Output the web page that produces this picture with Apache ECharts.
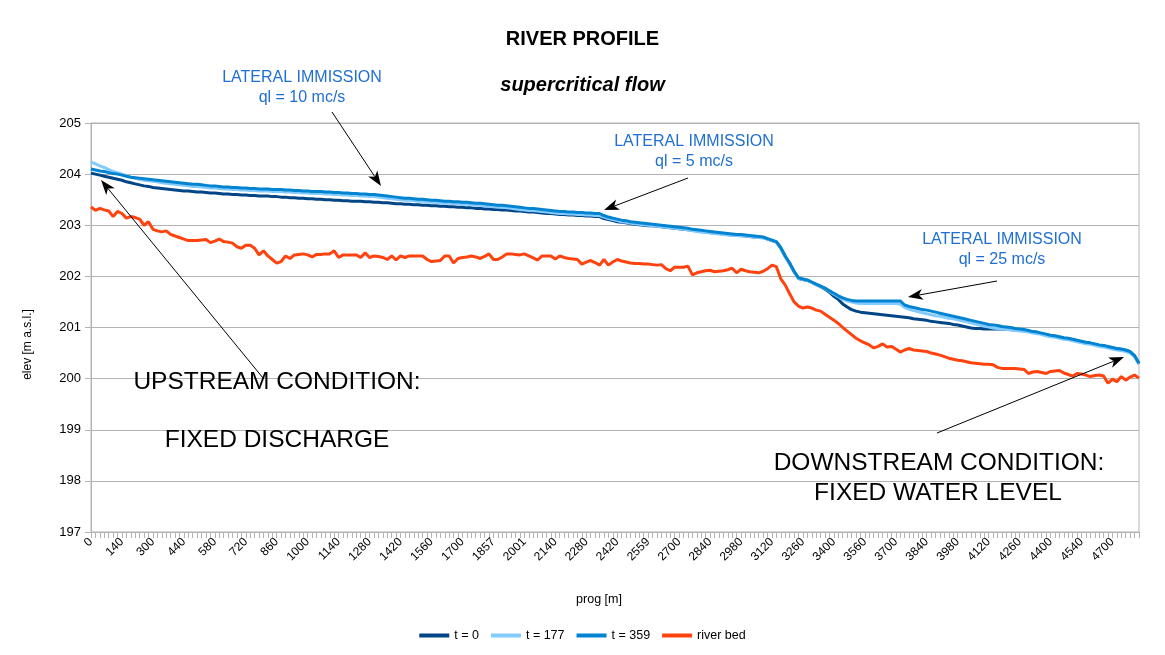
<!DOCTYPE html>
<html>
<head>
<meta charset="utf-8">
<script src="https://cdn.jsdelivr.net/npm/echarts@6/dist/echarts.min.js"></script>
<style>
html,body{margin:0;padding:0;background:#fff;}
#chart{width:1165px;height:655px;}
</style>
</head>
<body>
<div id="chart"></div>
<script>
// Tick labels shown on the x axis (every 7th category)
const tickLabels = ['0','140','300','440','580','720','860','1000','1140','1280','1420','1560','1700','1857','2001','2140','2280','2420','2559','2700','2840','2980','3120','3260','3400','3560','3700','3840','3980','4120','4260','4400','4540','4700'];
const labelStep = 7;
const nCategories = 238;

const seriesNames = ['t = 0', 't = 177', 't = 359', 'river bed'];

const t0 = [
204.02,204.00,203.98,203.96,203.94,203.92,203.90,203.88,203.85,203.83,
203.81,203.79,203.77,203.76,203.74,203.73,203.72,203.71,203.70,203.69,
203.68,203.67,203.67,203.66,203.65,203.65,203.64,203.63,203.63,203.62,
203.61,203.61,203.60,203.60,203.59,203.59,203.58,203.58,203.57,203.57,
203.57,203.56,203.56,203.55,203.55,203.54,203.54,203.53,203.53,203.52,
203.52,203.51,203.51,203.50,203.50,203.49,203.49,203.48,203.48,203.47,
203.47,203.47,203.46,203.46,203.45,203.45,203.44,203.44,203.43,203.42,
203.42,203.41,203.41,203.40,203.40,203.39,203.39,203.38,203.38,203.37,
203.37,203.36,203.36,203.35,203.35,203.34,203.34,203.33,203.33,203.32,
203.32,203.31,203.31,203.30,203.30,203.29,203.28,203.28,203.27,203.26,
203.26,203.25,203.24,203.23,203.23,203.22,203.21,203.21,203.20,203.20,
203.19,203.19,203.18,203.18,203.17,203.17,203.13,203.11,203.09,203.07,
203.06,203.05,203.03,203.02,203.01,203.00,202.99,202.99,202.98,202.97,
202.96,202.95,202.94,202.93,202.92,202.91,202.90,202.89,202.88,202.87,
202.86,202.85,202.84,202.83,202.82,202.81,202.80,202.80,202.79,202.78,
202.77,202.77,202.76,202.73,202.70,202.67,202.55,202.39,202.25,202.09,
201.96,201.94,201.92,201.88,201.84,201.80,201.75,201.69,201.61,201.55,
201.46,201.40,201.35,201.32,201.30,201.29,201.28,201.27,201.26,201.25,
201.24,201.23,201.22,201.21,201.20,201.19,201.17,201.16,201.15,201.14,
201.12,201.11,201.10,201.09,201.08,201.06,201.05,201.03,201.01,200.99,
200.98,200.98,200.97,200.97,200.97,200.97,200.97,200.96,200.96,200.95,
200.95,200.94,200.93,200.91,200.90,200.88,200.86,200.84,200.83,200.81,
200.79,200.78,200.76,200.74,200.72,200.70,200.69,200.67,200.65,200.64,
200.62,200.60,200.58,200.57,200.55,200.52,200.44,200.29];

const t177 = [
204.24,204.20,204.16,204.13,204.09,204.05,204.03,204.00,203.97,203.94,
203.92,203.90,203.88,203.87,203.86,203.85,203.83,203.82,203.81,203.80,
203.79,203.78,203.77,203.76,203.76,203.75,203.74,203.73,203.73,203.72,
203.71,203.71,203.70,203.70,203.69,203.69,203.68,203.68,203.67,203.67,
203.67,203.66,203.66,203.66,203.65,203.65,203.64,203.64,203.63,203.63,
203.62,203.62,203.62,203.61,203.61,203.60,203.60,203.59,203.59,203.58,
203.58,203.57,203.57,203.56,203.56,203.55,203.54,203.53,203.52,203.51,
203.50,203.49,203.49,203.48,203.47,203.47,203.46,203.45,203.45,203.44,
203.43,203.43,203.42,203.42,203.41,203.41,203.40,203.39,203.39,203.38,
203.37,203.36,203.35,203.35,203.34,203.33,203.32,203.31,203.30,203.29,
203.29,203.28,203.27,203.26,203.25,203.24,203.23,203.23,203.22,203.22,
203.21,203.21,203.20,203.20,203.19,203.19,203.16,203.13,203.11,203.09,
203.07,203.06,203.04,203.03,203.02,203.01,203.00,202.99,202.98,202.97,
202.96,202.95,202.94,202.93,202.92,202.91,202.89,202.88,202.87,202.86,
202.85,202.84,202.83,202.82,202.81,202.80,202.80,202.79,202.79,202.78,
202.77,202.76,202.75,202.73,202.70,202.67,202.55,202.39,202.25,202.09,
201.96,201.94,201.92,201.88,201.84,201.80,201.76,201.71,201.65,201.60,
201.55,201.52,201.50,201.48,201.47,201.47,201.47,201.47,201.47,201.47,
201.47,201.47,201.47,201.46,201.39,201.36,201.33,201.31,201.29,201.27,
201.25,201.23,201.22,201.20,201.18,201.17,201.15,201.13,201.11,201.09,
201.07,201.05,201.03,201.01,200.99,200.98,200.97,200.96,200.95,200.94,
200.93,200.92,200.91,200.89,200.88,200.86,200.84,200.82,200.81,200.79,
200.77,200.76,200.74,200.72,200.70,200.68,200.67,200.65,200.63,200.62,
200.60,200.58,200.56,200.55,200.53,200.50,200.43,200.29];

const t359 = [
204.10,204.08,204.06,204.05,204.03,204.01,204.00,203.98,203.96,203.94,
203.93,203.92,203.91,203.90,203.89,203.88,203.87,203.86,203.85,203.84,
203.83,203.82,203.81,203.80,203.80,203.79,203.78,203.77,203.77,203.76,
203.75,203.75,203.74,203.74,203.73,203.73,203.72,203.72,203.71,203.71,
203.71,203.70,203.70,203.70,203.69,203.69,203.68,203.68,203.67,203.67,
203.66,203.66,203.66,203.65,203.65,203.64,203.64,203.63,203.63,203.62,
203.62,203.61,203.61,203.60,203.60,203.59,203.58,203.57,203.56,203.55,
203.54,203.53,203.53,203.52,203.51,203.51,203.50,203.49,203.49,203.48,
203.47,203.47,203.46,203.46,203.45,203.45,203.44,203.43,203.43,203.42,
203.41,203.40,203.39,203.39,203.38,203.37,203.36,203.35,203.34,203.33,
203.33,203.32,203.31,203.30,203.29,203.28,203.27,203.27,203.26,203.26,
203.25,203.25,203.24,203.24,203.23,203.23,203.19,203.16,203.14,203.12,
203.10,203.09,203.07,203.06,203.05,203.04,203.03,203.02,203.01,203.00,
202.99,202.98,202.97,202.96,202.95,202.94,202.92,202.91,202.90,202.89,
202.88,202.87,202.86,202.85,202.84,202.83,202.82,202.82,202.81,202.80,
202.79,202.78,202.77,202.74,202.71,202.68,202.56,202.40,202.26,202.10,
201.97,201.95,201.93,201.89,201.85,201.81,201.77,201.72,201.67,201.62,
201.58,201.55,201.53,201.52,201.52,201.52,201.52,201.52,201.52,201.52,
201.52,201.52,201.52,201.52,201.44,201.41,201.39,201.37,201.35,201.34,
201.32,201.30,201.28,201.26,201.24,201.22,201.20,201.18,201.16,201.14,
201.12,201.10,201.08,201.06,201.05,201.04,201.02,201.01,201.00,200.98,
200.97,200.96,200.94,200.92,200.91,200.89,200.87,200.85,200.84,200.82,
200.80,200.79,200.77,200.75,200.73,200.71,200.70,200.68,200.66,200.65,
200.63,200.61,200.59,200.58,200.56,200.53,200.45,200.30];

const riverBed = [
203.36,203.29,203.33,203.30,203.28,203.17,203.27,203.23,203.14,203.17,
203.15,203.12,203.00,203.07,202.92,202.89,202.87,202.89,202.82,202.79,
202.76,202.73,202.70,202.70,202.70,202.71,202.72,202.66,202.69,202.73,
202.68,202.67,202.65,202.58,202.55,202.61,202.61,202.55,202.42,202.50,
202.40,202.33,202.26,202.29,202.40,202.35,202.42,202.43,202.44,202.42,
202.38,202.43,202.43,202.44,202.44,202.50,202.37,202.42,202.42,202.42,
202.42,202.37,202.46,202.37,202.40,202.39,202.37,202.33,202.40,202.32,
202.40,202.37,202.40,202.40,202.40,202.40,202.33,202.29,202.30,202.31,
202.40,202.40,202.26,202.35,202.37,202.38,202.40,202.38,202.35,202.39,
202.44,202.33,202.33,202.38,202.44,202.44,202.43,202.42,202.44,202.40,
202.36,202.32,202.40,202.40,202.40,202.34,202.40,202.37,202.35,202.34,
202.33,202.24,202.28,202.31,202.27,202.22,202.33,202.22,202.28,202.33,
202.30,202.28,202.26,202.25,202.25,202.24,202.24,202.23,202.22,202.23,
202.15,202.11,202.18,202.18,202.18,202.20,202.03,202.07,202.09,202.11,
202.12,202.09,202.10,202.11,202.13,202.16,202.07,202.14,202.11,202.09,
202.08,202.07,202.10,202.15,202.22,202.19,201.95,201.83,201.66,201.50,
201.42,201.38,201.40,201.38,201.34,201.32,201.26,201.20,201.14,201.08,
201.00,200.93,200.86,200.79,200.74,200.70,200.66,200.60,200.63,200.68,
200.62,200.63,200.58,200.52,200.56,200.59,200.56,200.55,200.54,200.53,
200.50,200.48,200.46,200.43,200.40,200.38,200.36,200.35,200.33,200.31,
200.30,200.29,200.28,200.28,200.27,200.22,200.20,200.20,200.20,200.20,
200.19,200.18,200.10,200.13,200.14,200.12,200.10,200.14,200.15,200.16,
200.11,200.08,200.05,200.10,200.09,200.07,200.04,200.06,200.07,200.05,
199.91,199.99,199.94,200.04,199.97,200.03,200.07,200.01];

const seriesColors = ['#004586', '#83caff', '#0084d1', '#ff420e'];

// categories: labelled every 7th position from tickLabels, others unlabelled
const categories = [];
for (let i = 0; i < nCategories; i++) {
  categories.push(i % labelStep === 0 ? tickLabels[i / labelStep] : '');
}

const FONT = '"Liberation Sans", Arial, sans-serif';
const annBlue = '#1f6fd2';

function arrow(x1, y1, x2, y2) {
  const dx = x2 - x1, dy = y2 - y1, L = Math.hypot(dx, dy);
  const ux = dx / L, uy = dy / L, px = -uy, py = ux;
  const hl = 15, hw = 5.5, notch = 4;
  const bx = x2 - ux * hl, by = y2 - uy * hl;
  const nx = x2 - ux * (hl - notch), ny = y2 - uy * (hl - notch);
  return [
    {type: 'line', silent: true, z: 100, shape: {x1: x1, y1: y1, x2: nx, y2: ny}, style: {stroke: '#000', lineWidth: 1}},
    {type: 'polygon', silent: true, z: 100, shape: {points: [[x2, y2], [bx + px * hw, by + py * hw], [nx, ny], [bx - px * hw, by - py * hw]]}, style: {fill: '#000'}}
  ];
}
function txt(x, y, text, size, color) {
  return {type: 'text', silent: true, z: 100, x: x, y: y,
    style: {text: text, fill: color, font: size + 'px ' + FONT, align: 'center', verticalAlign: 'middle', textAlign: 'center', textVerticalAlign: 'middle'}};
}

const graphics = [].concat(
  txt(302, 78, 'LATERAL IMMISSION', 16, annBlue),
  txt(302, 98, 'ql = 10 mc/s', 16, annBlue),
  txt(694, 142, 'LATERAL IMMISSION', 16, annBlue),
  txt(694, 162, 'ql = 5 mc/s', 16, annBlue),
  txt(1002, 240, 'LATERAL IMMISSION', 16, annBlue),
  txt(1002, 260, 'ql = 25 mc/s', 16, annBlue),
  txt(277, 382, 'UPSTREAM CONDITION:', 24.5, '#000'),
  txt(277, 440, 'FIXED DISCHARGE', 24.5, '#000'),
  txt(939, 463, 'DOWNSTREAM CONDITION:', 24.5, '#000'),
  txt(938, 493, 'FIXED WATER LEVEL', 24.5, '#000'),
  arrow(332, 112, 381, 186),
  arrow(688, 178, 604, 210),
  arrow(997, 281, 908, 297),
  arrow(263, 378, 101, 180),
  arrow(937, 433, 1124, 357)
);

const seriesData = [t0, t177, t359, riverBed];

const chart = echarts.init(document.getElementById('chart'), null, {renderer: 'canvas'});
chart.setOption({
  animation: false,
  backgroundColor: '#fff',
  textStyle: {fontFamily: FONT},
  color: seriesColors,
  title: {
    text: 'RIVER PROFILE',
    subtext: 'supercritical flow',
    left: 'center',
    top: 24,
    itemGap: 26,
    textStyle: {fontFamily: FONT, fontSize: 20, fontWeight: 'bold', color: '#000'},
    subtextStyle: {fontFamily: FONT, fontSize: 20, fontWeight: 'bold', fontStyle: 'italic', color: '#000'}
  },
  legend: {
    bottom: 8,
    left: 'center',
    icon: 'rect',
    itemWidth: 30,
    itemHeight: 4,
    itemGap: 12,
    textStyle: {fontFamily: FONT, fontSize: 12.5, color: '#000'},
    data: seriesNames
  },
  grid: {
    left: 91, right: 26, top: 123, bottom: 123,
    show: true, borderColor: '#b3b3b3', borderWidth: 1,
    containLabel: false
  },
  xAxis: {
    type: 'category',
    data: categories,
    boundaryGap: false,
    name: 'prog [m]',
    nameLocation: 'middle',
    nameGap: 61,
    nameTextStyle: {fontFamily: FONT, fontSize: 12.5, color: '#000', padding: [0, 32, 0, 0]},
    axisLine: {show: true, lineStyle: {color: '#b3b3b3', width: 1}},
    axisTick: {show: true, interval: 0, length: 6, inside: false, lineStyle: {color: '#b3b3b3'}},
    axisLabel: {interval: labelStep - 1, rotate: 45, fontSize: 12, color: '#000', margin: 8, fontFamily: FONT},
    splitLine: {show: false}
  },
  yAxis: {
    type: 'value',
    min: 197, max: 205, interval: 1,
    name: 'elev [m a.s.l.]',
    nameLocation: 'middle',
    nameGap: 57,
    nameTextStyle: {fontFamily: FONT, fontSize: 12, color: '#000', padding: [0, 34, 0, 0]},
    axisLine: {show: true, lineStyle: {color: '#b3b3b3', width: 1}},
    axisTick: {show: true, length: 6, lineStyle: {color: '#b3b3b3'}},
    axisLabel: {fontSize: 13, color: '#000', margin: 10, fontFamily: FONT},
    splitLine: {show: true, lineStyle: {color: '#b3b3b3', width: 1}}
  },
  series: seriesNames.map(function (name, k) {
    return {
      name: name,
      type: 'line',
      data: seriesData[k],
      showSymbol: false,
      symbol: 'none',
      lineStyle: {width: 3, color: seriesColors[k]},
      itemStyle: {color: seriesColors[k]},
      z: 2 + k
    };
  }),
  graphic: graphics
});
</script>
</body>
</html>
